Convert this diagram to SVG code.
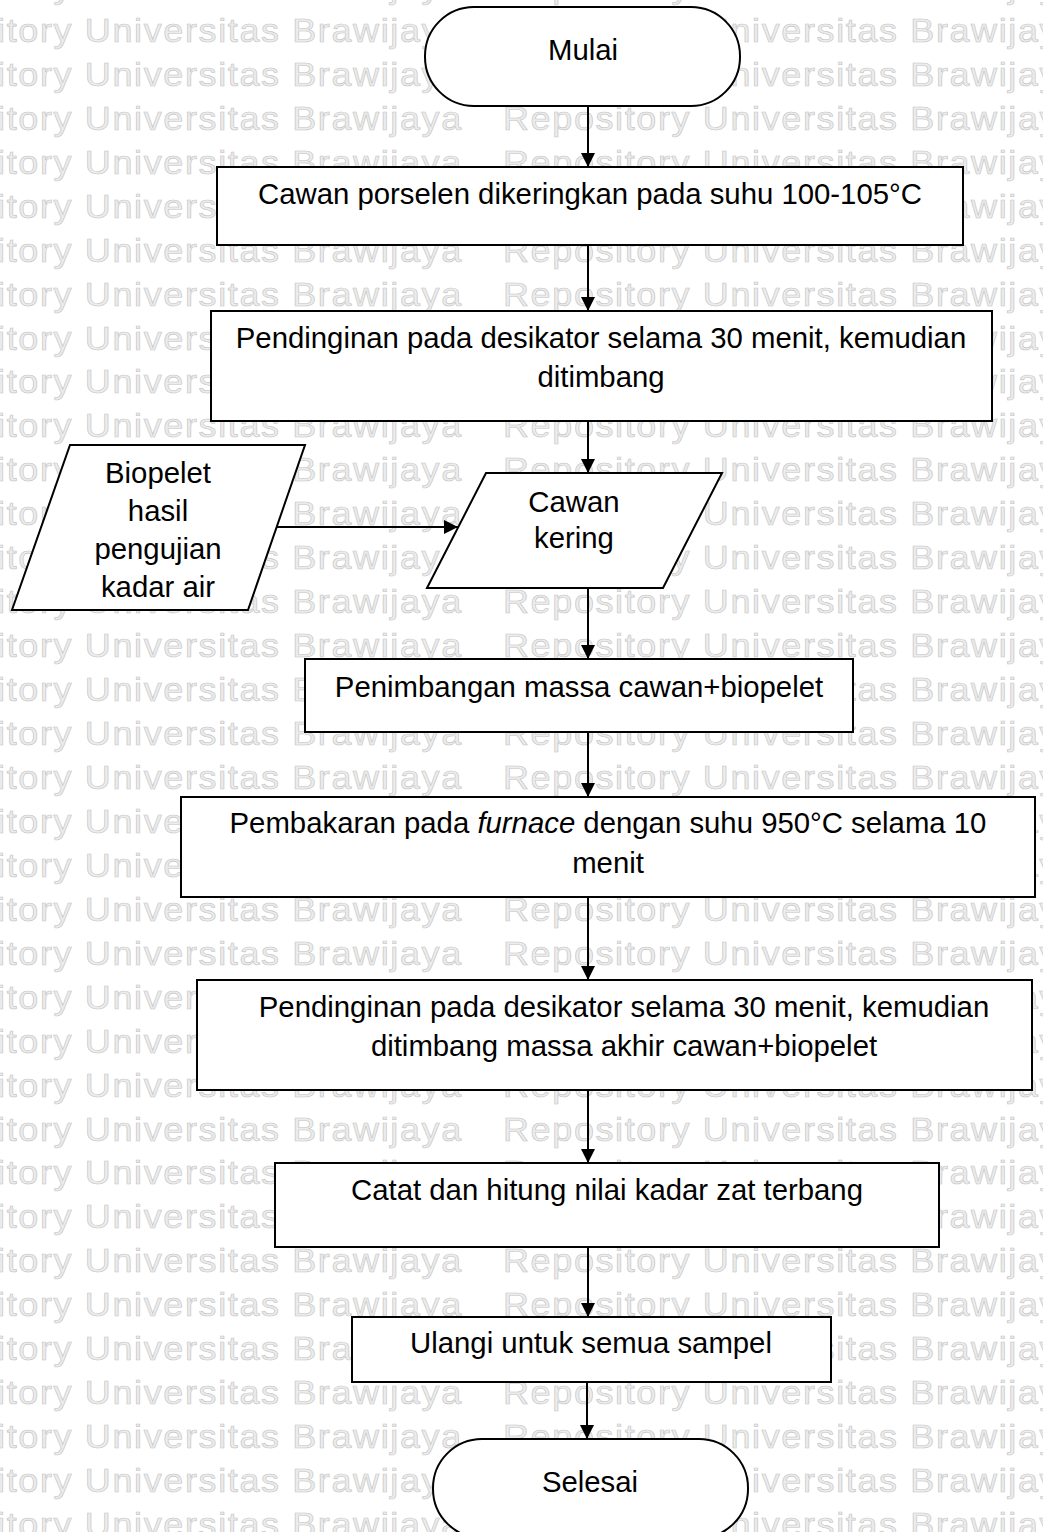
<svg xmlns="http://www.w3.org/2000/svg" xmlns:xlink="http://www.w3.org/1999/xlink" width="1043" height="1532" viewBox="0 0 1043 1532">
  <style>
    .wm { font-family: "Liberation Sans", Arial, sans-serif; font-size: 33px; letter-spacing: 1.5px; fill: #ececec; stroke: #c4c4c4; stroke-width: 0.6; }
    .shape { fill: #ffffff; stroke: #000000; stroke-width: 2; }
    .lbl { font-family: "Liberation Sans", Arial, sans-serif; font-size: 29.33px; fill: #000000; text-anchor: middle; }
    .edge { fill: none; stroke: #000000; stroke-width: 2; marker-end: url(#arrow); }
  </style>
  <defs>
    <marker id="arrow" viewBox="0 0 10 10" refX="10" refY="5" markerWidth="7" markerHeight="7" orient="auto" markerUnits="strokeWidth">
      <path d="M0,0 L10,5 L0,10 z" fill="#000000"/>
    </marker>
    <!-- one row of the background watermark, slightly widened -->
    <g id="wm-row" transform="scale(1.09,1)">
      <text class="wm" x="-105.5" y="0">Repository Universitas Brawijaya</text>
      <text class="wm" x="461.5" y="0">Repository Universitas Brawijaya</text>
    </g>
  </defs>

  <rect x="0" y="0" width="1043" height="1532" fill="#ffffff"/>

  <!-- background watermark -->
  <g id="watermark">
    <use xlink:href="#wm-row" y="-2"/>
    <use xlink:href="#wm-row" y="42"/>
    <use xlink:href="#wm-row" y="86"/>
    <use xlink:href="#wm-row" y="130"/>
    <use xlink:href="#wm-row" y="174"/>
    <use xlink:href="#wm-row" y="218"/>
    <use xlink:href="#wm-row" y="262"/>
    <use xlink:href="#wm-row" y="306"/>
    <use xlink:href="#wm-row" y="350"/>
    <use xlink:href="#wm-row" y="393"/>
    <use xlink:href="#wm-row" y="437"/>
    <use xlink:href="#wm-row" y="481"/>
    <use xlink:href="#wm-row" y="525"/>
    <use xlink:href="#wm-row" y="569"/>
    <use xlink:href="#wm-row" y="613"/>
    <use xlink:href="#wm-row" y="657"/>
    <use xlink:href="#wm-row" y="701"/>
    <use xlink:href="#wm-row" y="745"/>
    <use xlink:href="#wm-row" y="789"/>
    <use xlink:href="#wm-row" y="833"/>
    <use xlink:href="#wm-row" y="877"/>
    <use xlink:href="#wm-row" y="921"/>
    <use xlink:href="#wm-row" y="965"/>
    <use xlink:href="#wm-row" y="1009"/>
    <use xlink:href="#wm-row" y="1053"/>
    <use xlink:href="#wm-row" y="1097"/>
    <use xlink:href="#wm-row" y="1141"/>
    <use xlink:href="#wm-row" y="1184"/>
    <use xlink:href="#wm-row" y="1228"/>
    <use xlink:href="#wm-row" y="1272"/>
    <use xlink:href="#wm-row" y="1316"/>
    <use xlink:href="#wm-row" y="1360"/>
    <use xlink:href="#wm-row" y="1404"/>
    <use xlink:href="#wm-row" y="1448"/>
    <use xlink:href="#wm-row" y="1492"/>
    <use xlink:href="#wm-row" y="1536"/>
  </g>

  <!-- connectors -->
  <g id="connectors">
    <line class="edge" x1="588" y1="106" x2="588" y2="167"/>
    <line class="edge" x1="588" y1="245" x2="588" y2="311"/>
    <line class="edge" x1="588" y1="421" x2="588" y2="473"/>
    <line class="edge" x1="277" y1="527" x2="458" y2="527"/>
    <line class="edge" x1="588" y1="588" x2="588" y2="659"/>
    <line class="edge" x1="588" y1="732" x2="588" y2="797"/>
    <line class="edge" x1="588" y1="897" x2="588" y2="980"/>
    <line class="edge" x1="588" y1="1090" x2="588" y2="1163"/>
    <line class="edge" x1="588" y1="1247" x2="588" y2="1317"/>
    <line class="edge" x1="587" y1="1382" x2="587" y2="1439"/>
  </g>

  <!-- nodes -->
  <g id="start">
    <rect class="shape" x="425" y="7" width="315" height="99" rx="49" ry="49"/>
    <text class="lbl" x="583" y="60">Mulai</text>
  </g>

  <g id="dry-crucible">
    <rect class="shape" x="217" y="167" width="746" height="78"/>
    <text class="lbl" x="590" y="204">Cawan porselen dikeringkan pada suhu 100-105°C</text>
  </g>

  <g id="cool-weigh-crucible">
    <rect class="shape" x="211" y="311" width="781" height="110"/>
    <text class="lbl" x="601" y="348">Pendinginan pada desikator selama 30 menit, kemudian</text>
    <text class="lbl" x="601" y="387">ditimbang</text>
  </g>

  <g id="input-sample">
    <polygon class="shape" points="70,445 305,445 248,610 12,610"/>
    <text class="lbl" x="158" y="483">Biopelet</text>
    <text class="lbl" x="158" y="521">hasil</text>
    <text class="lbl" x="158" y="559">pengujian</text>
    <text class="lbl" x="158" y="597">kadar air</text>
  </g>

  <g id="dry-crucible-data">
    <polygon class="shape" points="486,473 722,473 663,588 427,588"/>
    <text class="lbl" x="574" y="512">Cawan</text>
    <text class="lbl" x="574" y="548">kering</text>
  </g>

  <g id="weigh-sample">
    <rect class="shape" x="305" y="659" width="548" height="73"/>
    <text class="lbl" x="579" y="697">Penimbangan massa cawan+biopelet</text>
  </g>

  <g id="furnace">
    <rect class="shape" x="181" y="797" width="854" height="100"/>
    <text class="lbl" x="608" y="833">Pembakaran pada <tspan font-style="italic">furnace</tspan> dengan suhu 950°C selama 10</text>
    <text class="lbl" x="608" y="873">menit</text>
  </g>

  <g id="cool-weigh-final">
    <rect class="shape" x="197" y="980" width="835" height="110"/>
    <text class="lbl" x="624" y="1017">Pendinginan pada desikator selama 30 menit, kemudian</text>
    <text class="lbl" x="624" y="1056">ditimbang massa akhir cawan+biopelet</text>
  </g>

  <g id="calculate">
    <rect class="shape" x="275" y="1163" width="664" height="84"/>
    <text class="lbl" x="607" y="1200">Catat dan hitung nilai kadar zat terbang</text>
  </g>

  <g id="repeat">
    <rect class="shape" x="352" y="1317" width="479" height="65"/>
    <text class="lbl" x="591" y="1353">Ulangi untuk semua sampel</text>
  </g>

  <g id="end">
    <rect class="shape" x="433" y="1439" width="315" height="99" rx="49" ry="49"/>
    <text class="lbl" x="590" y="1492">Selesai</text>
  </g>
</svg>
